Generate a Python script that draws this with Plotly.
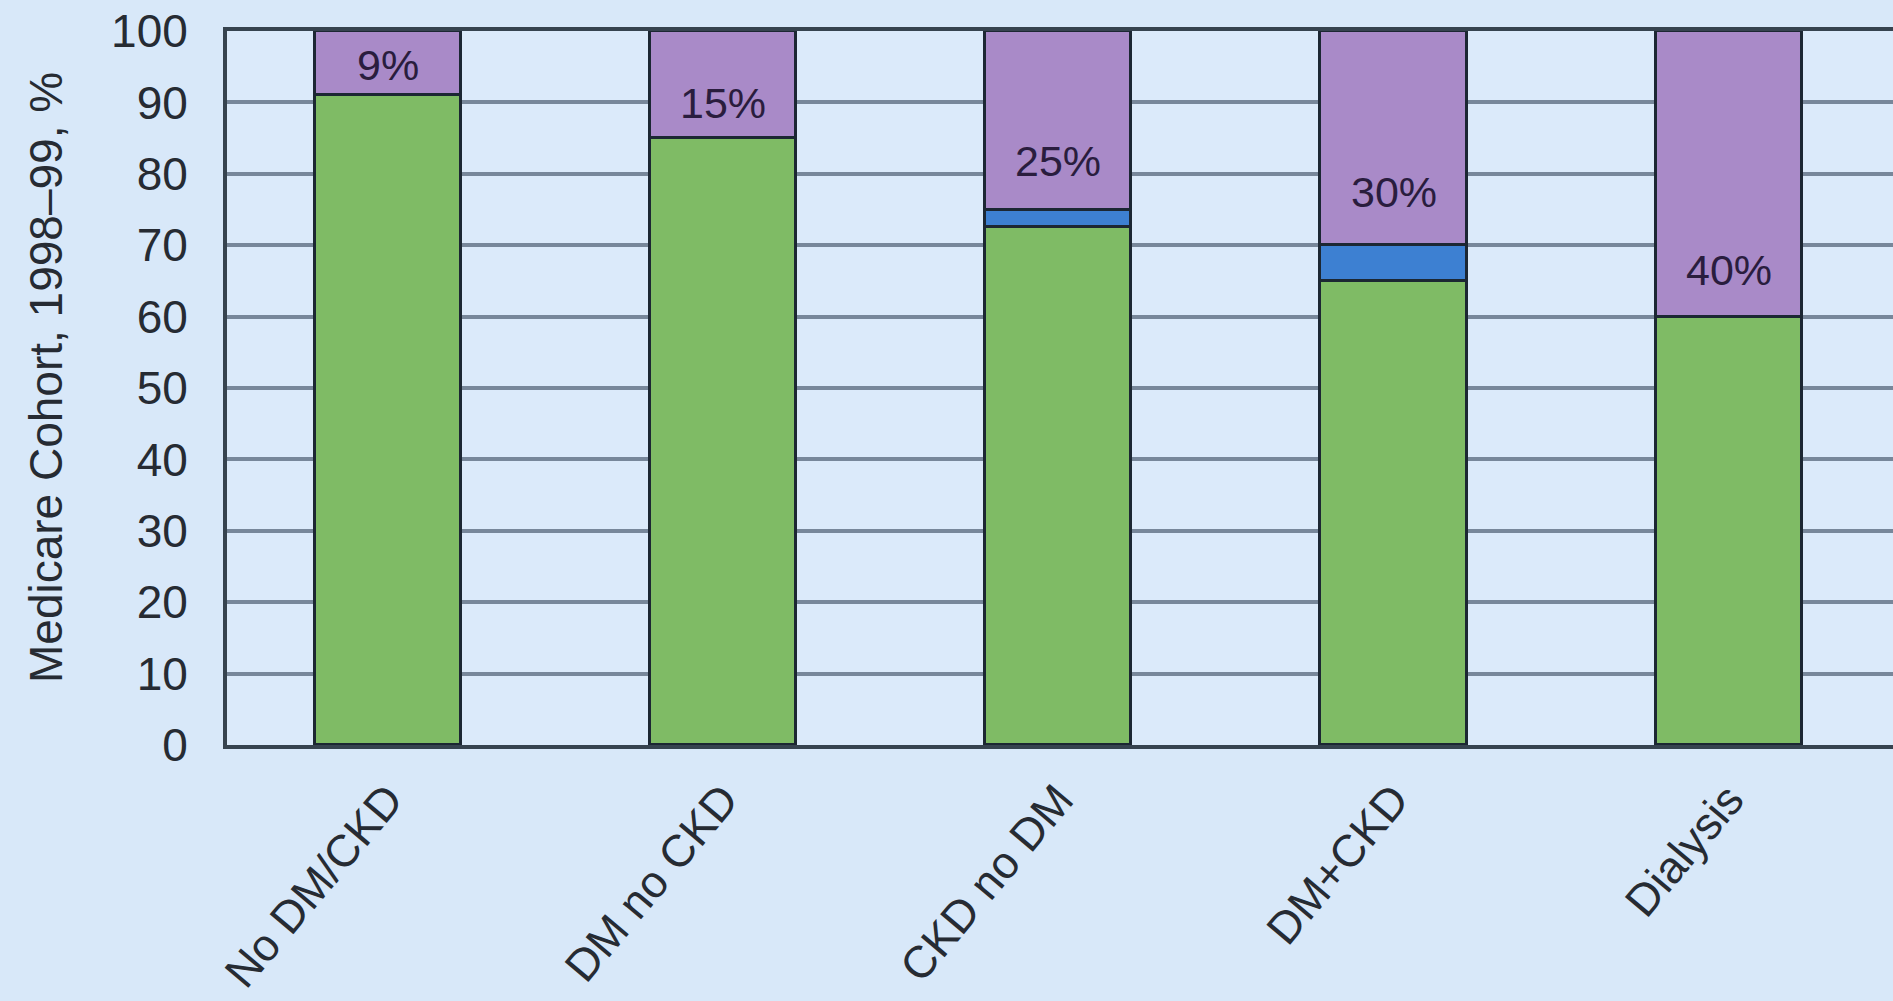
import plotly.graph_objects as go

# Medicare cohort 1998-99: share of patients per comorbidity group (%)
categories = ["No DM/CKD", "DM no CKD", "CKD no DM", "DM+CKD", "Dialysis"]
green_values = [91, 85, 72.5, 65, 60]
blue_values = [0, 0, 2.5, 5, 0]
purple_values = [9, 15, 25, 30, 40]
purple_labels = ["9%", "15%", "25%", "30%", "40%"]
y_ticks = [0, 10, 20, 30, 40, 50, 60, 70, 80, 90, 100]

# styling
BG = "#d8e8f9"
PLOT_BG = "#dbeafa"
GREEN = "#7fbb65"
BLUE = "#3d80d2"
PURPLE = "#a98ac8"
EDGE = "#1c2733"
GRID = "#77879a"
AXIS = "#36434f"
TEXT = "#262b33"
FONT = "Liberation Sans, Arial, sans-serif"
BAR_WIDTH = 0.436
label_shift_px = [4, 9, 23, 27, 21]

fig = go.Figure()

for vals, color in ((green_values, GREEN), (blue_values, BLUE), (purple_values, PURPLE)):
    fig.add_trace(go.Bar(
        x=categories,
        y=[v if v else None for v in vals],
        width=BAR_WIDTH,
        marker=dict(color=color, line=dict(color=EDGE, width=3.5)),
        showlegend=False,
        hoverinfo="skip",
    ))

# percentage labels near the base of each purple segment
for i, (cat, txt) in enumerate(zip(categories, purple_labels)):
    base = green_values[i] + blue_values[i]
    fig.add_annotation(
        x=cat, y=base, xref="x", yref="y",
        text=txt, showarrow=False,
        yanchor="bottom", yshift=label_shift_px[i],
        font=dict(family=FONT, size=43, color="#2a1d3e"),
    )

# y-axis title
fig.add_annotation(
    x=0, y=0.5, xref="paper", yref="paper",
    xshift=-181, yshift=10, text="Medicare Cohort, 1998\u201399, %",
    textangle=-90, showarrow=False,
    xanchor="center", yanchor="middle",
    font=dict(family=FONT, size=46, color=TEXT),
)

fig.update_layout(
    width=1893, height=1001,
    margin=dict(l=227, r=0, t=31, b=256),
    paper_bgcolor=BG, plot_bgcolor=PLOT_BG,
    barmode="stack", bargap=0,
    font=dict(family=FONT, color=TEXT),
)

fig.update_xaxes(
    range=[-0.48, 4.49],
    showline=True, mirror=True, linecolor=AXIS, linewidth=4,
    showgrid=False, zeroline=False,
    ticks="outside", ticklen=6, tickcolor="rgba(0,0,0,0)",
    tickangle=-50,
    tickfont=dict(family=FONT, size=45, color=TEXT),
)

fig.update_yaxes(
    range=[0, 100], tickvals=y_ticks,
    showline=True, linecolor=AXIS, linewidth=4,
    showgrid=True, gridcolor=GRID, gridwidth=3.5,
    zeroline=False,
    ticks="outside", ticklen=26, tickcolor="rgba(0,0,0,0)",
    tickfont=dict(family=FONT, size=46, color=TEXT),
)

fig.write_html("out.html")
